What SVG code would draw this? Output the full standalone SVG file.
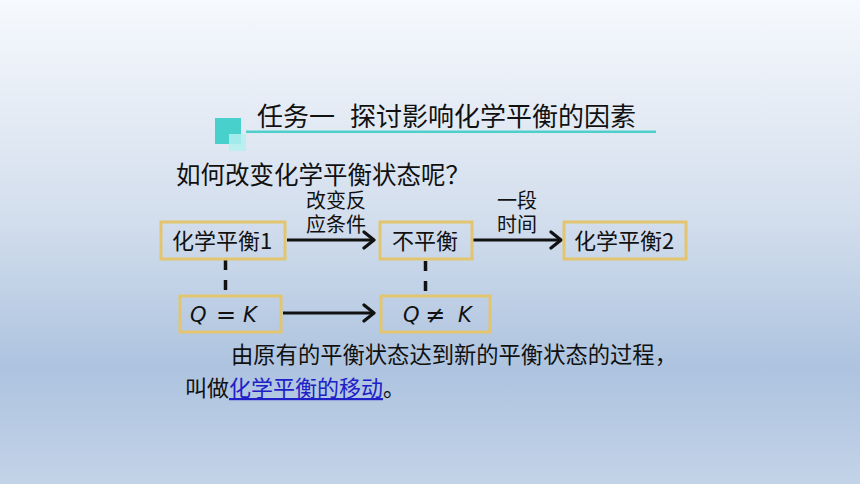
<svg xmlns="http://www.w3.org/2000/svg" width="860" height="484" viewBox="0 0 860 484">
<style>
  .cjk { font-family: "Noto Sans CJK SC", "Noto Sans", sans-serif; fill: #111; }
  .box { fill: none; stroke: #e2c56e; stroke-width: 3; }
  .arrow { fill: none; stroke: #111; stroke-width: 3.2; }
  .dash { fill: none; stroke: #111; stroke-width: 3.5; stroke-dasharray: 10 10; }
  .math { font-family: "DejaVu Sans", "Liberation Sans", sans-serif; font-style: italic; font-size: 21px; fill: #111; }
  .op { font-style: normal; font-size: 24px; }
  .link { fill: #2020c8; }
</style>
<defs>
  <linearGradient id="bg" x1="0" y1="0" x2="0" y2="1">
    <stop offset="0" stop-color="#f6f9fd"/>
    <stop offset="0.45" stop-color="#d3deed"/>
    <stop offset="0.76" stop-color="#adc3df"/>
    <stop offset="1" stop-color="#c3d3e8"/>
  </linearGradient>
  <marker id="ah" markerUnits="userSpaceOnUse" viewBox="0 0 14 20" refX="12" refY="10" markerWidth="14" markerHeight="20" orient="auto">
    <path d="M2,2 L12,10 L2,18" fill="none" stroke="#111" stroke-width="3.2" stroke-linecap="round" stroke-linejoin="round"/>
  </marker>
</defs>
<rect x="0" y="0" width="860" height="484" fill="url(#bg)"/>

<g id="title">
  <rect x="215" y="118" width="26" height="26" fill="#48d1cc"/>
  <rect x="229" y="134" width="17" height="17" fill="#b4f0ee" fill-opacity="0.85"/>
  <rect x="246" y="130.5" width="410" height="2.5" fill="#4fcfcc"/>
  <text class="cjk" y="126" font-size="26"><tspan x="257">任务一</tspan><tspan x="350">探讨影响化学平衡的因素</tspan></text>
</g>

<g id="question">
  <text class="cjk" x="176" y="184" font-size="24.5">如何改变化学平衡状态呢？</text>
</g>

<g id="connectors">
  <path class="arrow" d="M287,240 L374,240" marker-end="url(#ah)"/>
  <path class="arrow" d="M472,240 L561,240" marker-end="url(#ah)"/>
  <path class="arrow" d="M283,313 L374,313" marker-end="url(#ah)"/>
  <path class="dash" d="M225.5,260 L225.5,291"/>
  <path class="dash" d="M425.5,261 L425.5,293"/>
  <text class="cjk" font-size="20"><tspan x="306" y="208">改变反</tspan><tspan x="306" y="232">应条件</tspan></text>
  <text class="cjk" font-size="20"><tspan x="497" y="208">一段</tspan><tspan x="497" y="232">时间</tspan></text>
</g>

<g id="node-eq1">
  <rect class="box" x="161" y="222" width="124" height="37"/>
  <text class="cjk" x="172" y="249" font-size="22">化学平衡1</text>
</g>
<g id="node-noneq">
  <rect class="box" x="380" y="222" width="92" height="37"/>
  <text class="cjk" x="392" y="249" font-size="22">不平衡</text>
</g>
<g id="node-eq2">
  <rect class="box" x="564" y="222" width="122" height="37"/>
  <text class="cjk" x="574" y="249" font-size="22">化学平衡2</text>
</g>
<g id="node-qk">
  <rect class="box" x="180" y="296" width="101" height="36"/>
  <text class="math" y="322"><tspan x="190">Q</tspan><tspan class="op" x="216" y="323">=</tspan><tspan x="243" y="322">K</tspan></text>
</g>
<g id="node-qnk">
  <rect class="box" x="381" y="296" width="109" height="36"/>
  <text class="math" y="322"><tspan x="403">Q</tspan><tspan class="op" x="425" y="323">≠</tspan><tspan x="458" y="322">K</tspan></text>
</g>

<g id="conclusion">
  <text class="cjk" x="231" y="363" font-size="22.3">由原有的平衡状态达到新的平衡状态的过程，</text>
  <text class="cjk" x="185" y="396" font-size="22">叫做<tspan class="link" text-decoration="underline">化学平衡的移动</tspan>。</text>
</g>
</svg>
